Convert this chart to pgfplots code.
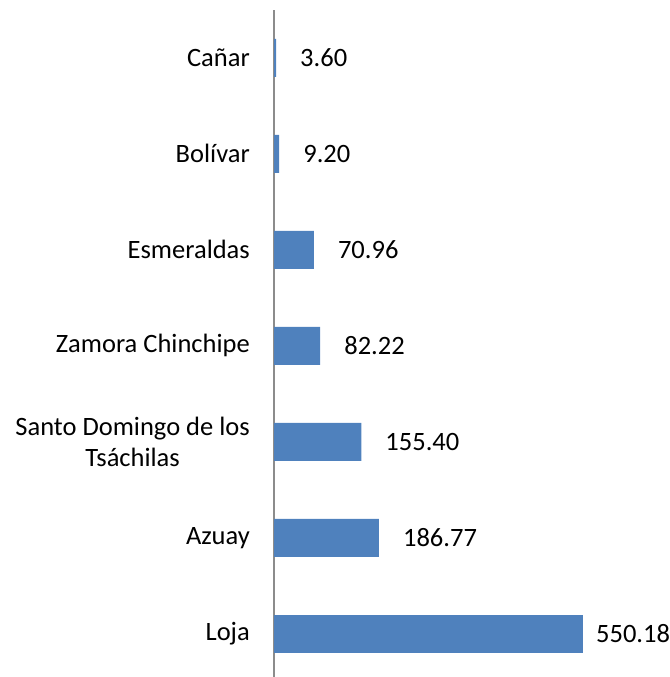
\documentclass[border=0pt]{standalone}
\usepackage{pgfplots}
\pgfplotsset{compat=1.18}
\usepackage{fontspec}
\setmainfont{Carlito}
\definecolor{barblue}{HTML}{4F81BD}
\definecolor{axgray}{HTML}{8C8C8C}
\begin{document}
\fontsize{26.5bp}{31bp}\selectfont
\begin{tikzpicture}
\begin{axis}[
  at={(274bp,0bp)}, anchor=south west,
  scale only axis,
  width=336.96bp, height=667.2bp,
  xmin=0, xmax=600,
  ymin=-0.45, ymax=6.5,
  xbar, bar width=38bp, bar shift=0pt,
  axis x line=none,
  axis y line*=left,
  y axis line style={draw=axgray, line width=1.2bp},
  ytick={0,1,2,3,4,5,6},
  yticklabels={Loja, Azuay, {Santo Domingo de los\\Tsáchilas}, Zamora Chinchipe, Esmeraldas, Bolívar, Cañar},
  major tick length=0pt,
  ytick style={draw=none},
  yticklabel style={anchor=east, align=center, inner sep=0pt, xshift=-24bp, font=\fontsize{26.5bp}{31bp}\selectfont},
  /pgf/number format/assume math mode=true,
  nodes near coords={\pgfmathprintnumber[fixed,zerofill,precision=2]{\pgfplotspointmeta}},
  nodes near coords style={anchor=west, inner sep=0pt, font=\fontsize{26.5bp}{31bp}\selectfont, text=black},
  clip=false,
]
\addplot[fill=barblue, draw=none, nodes near coords style={xshift=24bp}] coordinates {
  (186.77,1) (155.40,2) (82.22,3) (70.96,4) (9.20,5) (3.60,6)
};
\addplot[fill=barblue, draw=none, nodes near coords style={xshift=13bp}] coordinates {
  (550.18,0)
};
\end{axis}
\pgfresetboundingbox
\path[use as bounding box] (0,0) rectangle (670bp,677bp);
\end{tikzpicture}
\end{document}
